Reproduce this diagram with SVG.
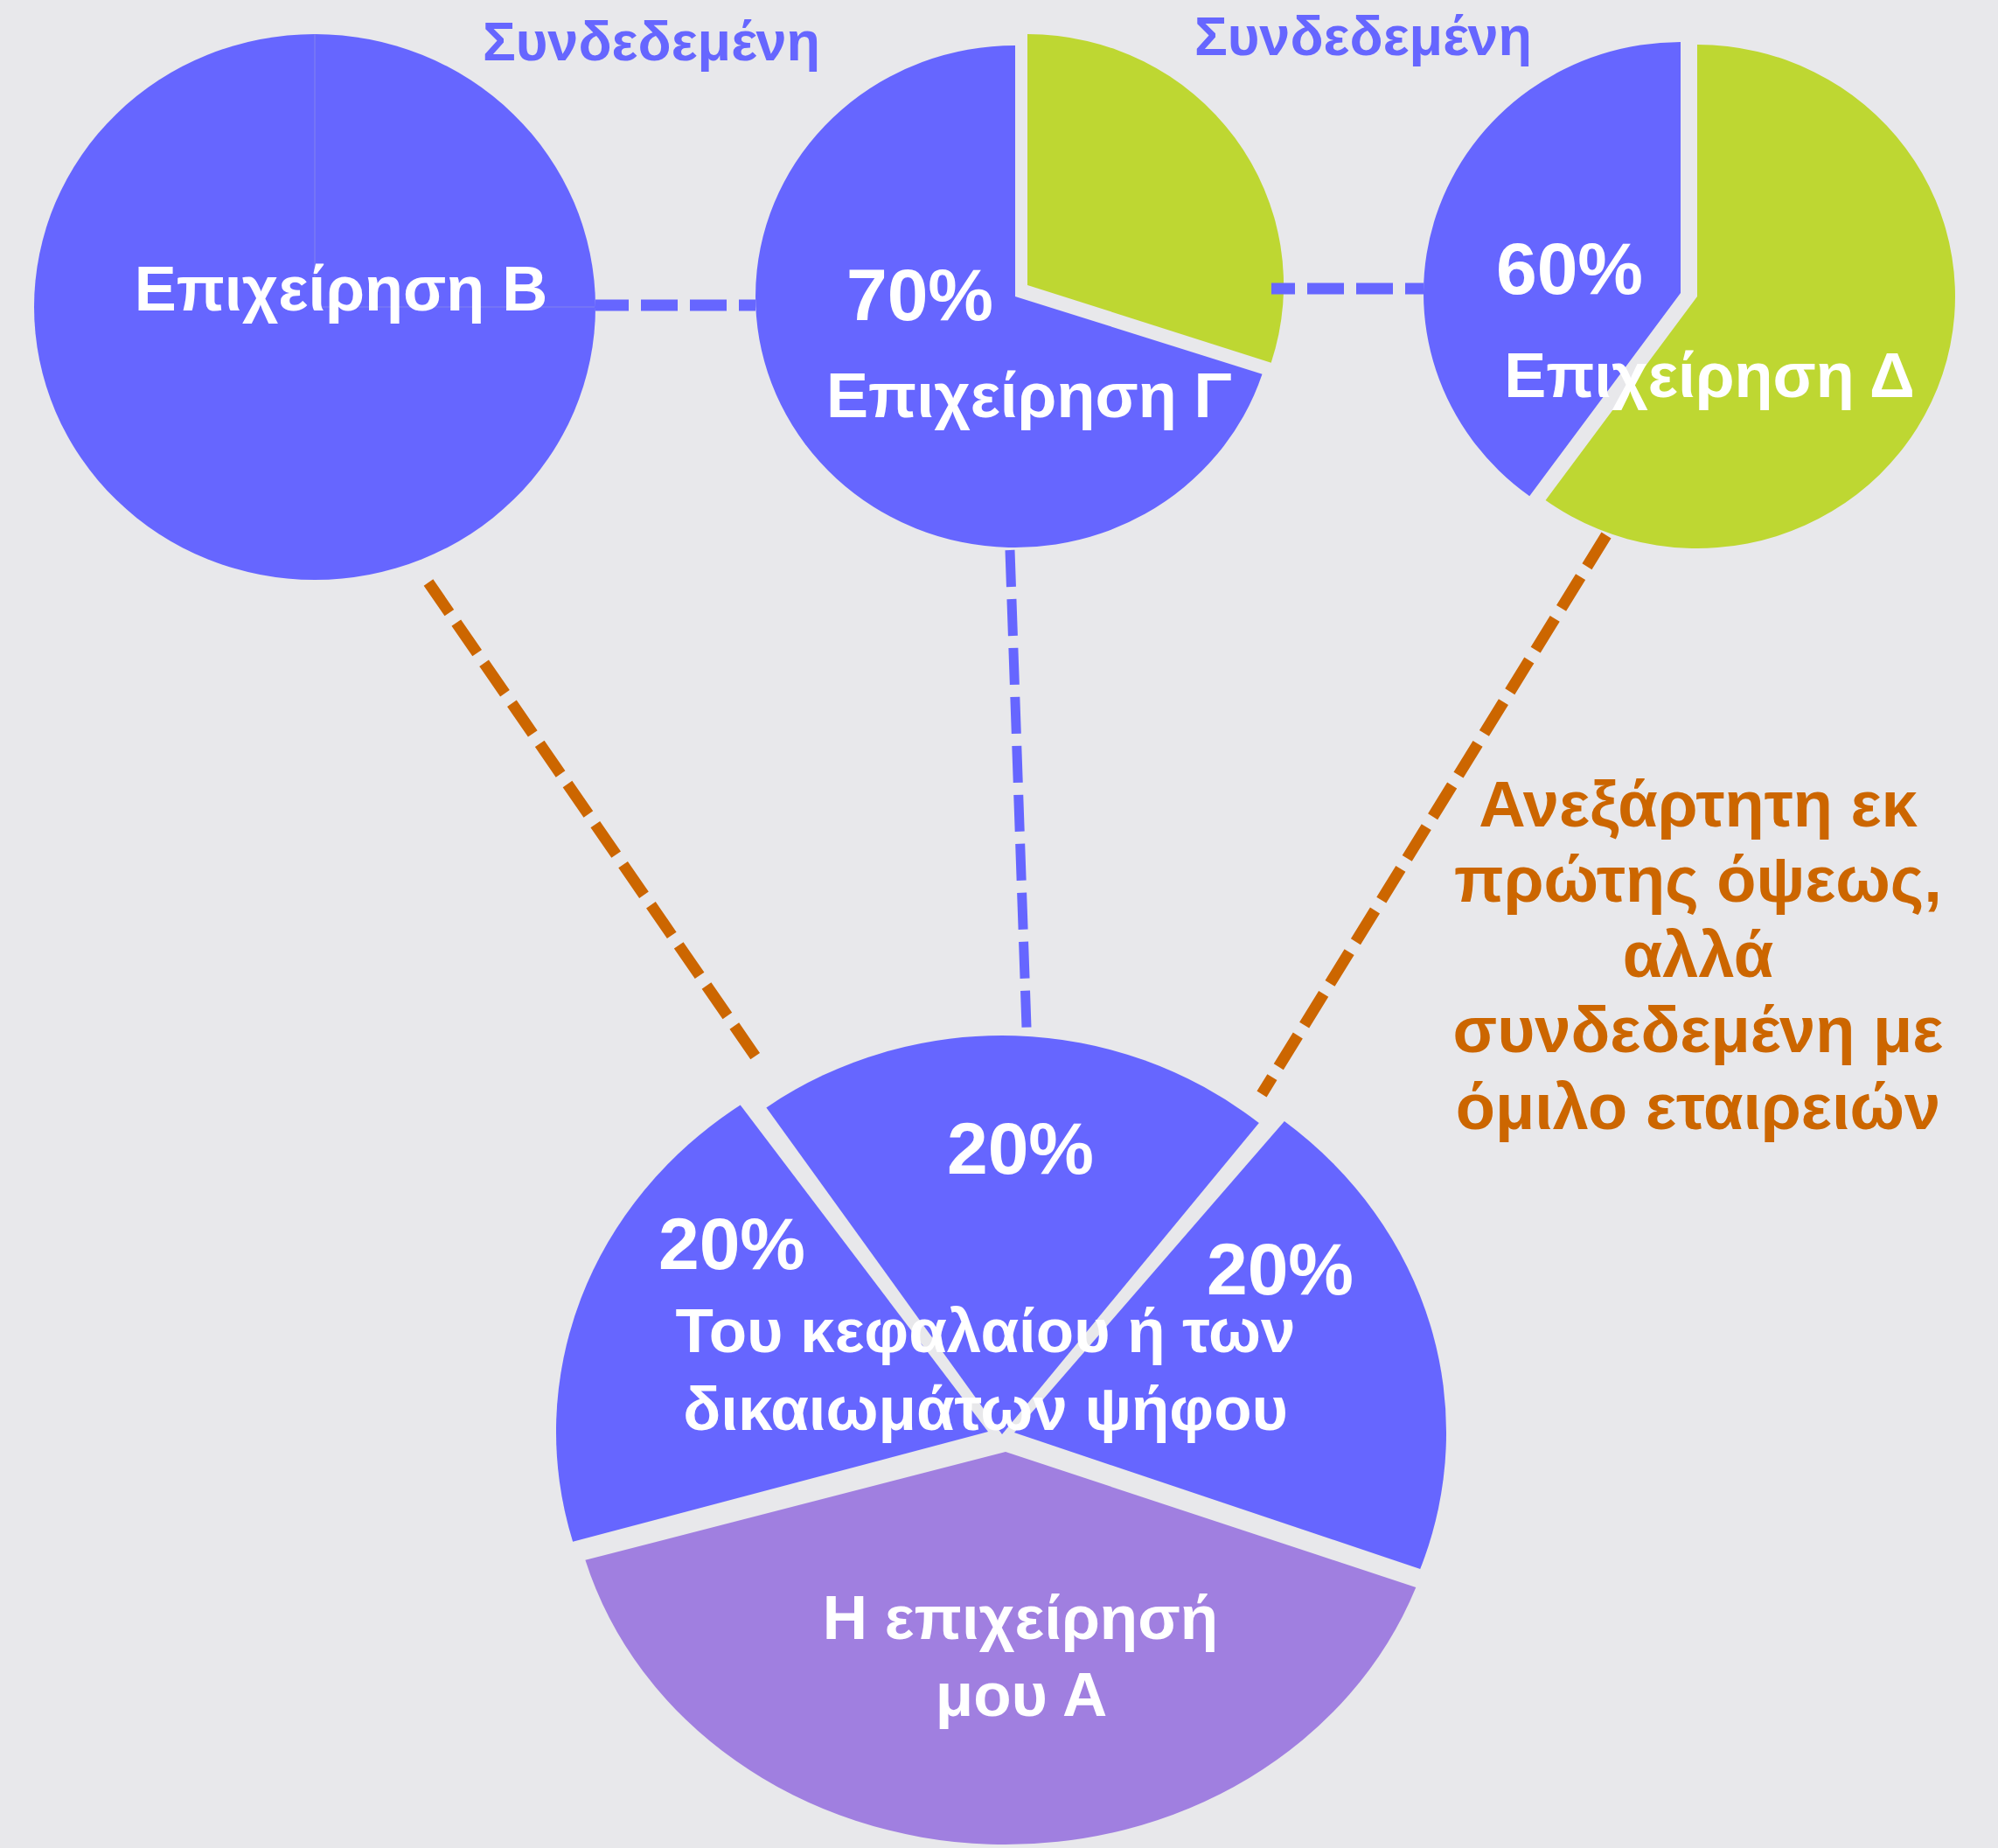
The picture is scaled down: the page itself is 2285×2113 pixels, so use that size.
<svg xmlns="http://www.w3.org/2000/svg" width="2285" height="2113" viewBox="0 0 2285 2113">
  <style>
    .blue { fill: #6666ff; }
    .green { fill: #bed732; }
    .purple { fill: #a07fe0; }
    .lbl { font-family: "Liberation Sans", Arial, sans-serif; font-weight: bold; fill: #ffffff; text-anchor: middle; }
    .pct { font-size: 84px; }
    .name { font-size: 72px; }
    .link { font-family: "Liberation Sans", Arial, sans-serif; font-weight: bold; fill: #6666ff; text-anchor: middle; font-size: 63px; }
    .note { font-family: "Liberation Sans", Arial, sans-serif; font-weight: bold; fill: #cc6600; text-anchor: middle; font-size: 74px; }
    .cb { fill: none; stroke: #6666ff; stroke-dasharray: 42 14; }
    .co { fill: none; stroke: #cc6600; stroke-width: 13; stroke-dasharray: 42 14; }
  </style>
  <rect x="0" y="0" width="2285" height="2113" fill="#e8e8eb"/>

  <g id="node-B">
    <ellipse class="blue" cx="360" cy="351" rx="321" ry="312"/>
    <path d="M360,39 L360,351 L680,351" fill="none" stroke="#7a7af5" stroke-width="1.5"/>
    <text class="lbl name" x="390" y="355">Επιχείρηση Β</text>
  </g>

  <g id="node-G">
    <path class="blue" d="M1161,339 L1443.5,427.7 A297,287 0 1 1 1161,52 Z"/>
    <path class="green" d="M1175,326 L1175,39 A293,287 0 0 1 1453.7,414.7 Z"/>
    <text class="lbl pct" x="1052" y="366">70%</text>
    <text class="lbl name" x="1177" y="477">Επιχείρηση Γ</text>
  </g>

  <g id="node-D">
    <path class="green" d="M1941,339 L1941,51 A295,288 0 1 1 1767.6,572 Z"/>
    <path class="blue" d="M1922,335 L1749.2,567.2 A294,287 0 0 1 1922,48 Z"/>
    <text class="lbl pct" x="1795" y="336">60%</text>
    <text class="lbl name" x="1955" y="454">Επιχείρηση Δ</text>
  </g>

  <g id="node-A">
    <path class="blue" d="M1130,1637 L655.1,1762.7 A494,456 0 0 1 846.7,1263.5 Z"/>
    <path class="blue" d="M1146,1640 L876.4,1266.4 A470,456 0 0 1 1439.8,1284.1 Z"/>
    <path class="blue" d="M1160,1638 L1468.9,1282.1 A494,456 0 0 1 1624.2,1794 Z"/>
    <path class="purple" d="M1150,1660 L1619.3,1815 A500,449 0 0 1 669.4,1783.8 Z"/>
    <text class="lbl pct" x="1167" y="1342">20%</text>
    <text class="lbl pct" x="837" y="1451">20%</text>
    <text class="lbl pct" x="1464" y="1480">20%</text>
    <text class="lbl" font-size="71" x="1127" y="1546">Του κεφαλαίου ή των</text>
    <text class="lbl" font-size="71" x="1127" y="1635">δικαιωμάτων ψήφου</text>
    <text class="lbl" font-size="71" x="1167" y="1874">Η επιχείρησή</text>
    <text class="lbl" font-size="71" x="1168" y="1962">μου Α</text>
  </g>

  <g id="label-linked-1">
    <text class="link" x="745" y="69">Συνδεδεμένη</text>
  </g>
  <g id="label-linked-2">
    <text class="link" x="1559" y="63">Συνδεδεμένη</text>
  </g>
  <g id="label-independent">
    <text class="note" x="1942" y="945">Ανεξάρτητη εκ</text>
    <text class="note" x="1942" y="1031">πρώτης όψεως,</text>
    <text class="note" x="1942" y="1117">αλλά</text>
    <text class="note" x="1942" y="1203">συνδεδεμένη με</text>
    <text class="note" x="1942" y="1291">όμιλο εταιρειών</text>
  </g>

  <g id="connectors">
    <line class="cb" x1="681" y1="349" x2="864" y2="349" stroke-width="13" stroke-dashoffset="4"/>
    <line class="cb" x1="1454" y1="330" x2="1628" y2="330" stroke-width="13" stroke-dashoffset="15"/>
    <line class="cb" x1="1155" y1="629" x2="1174" y2="1175" stroke-width="11"/>
    <line class="co" x1="490" y1="666" x2="866" y2="1211"/>
    <line class="co" x1="1837" y1="612" x2="1443" y2="1251"/>
  </g>
</svg>
